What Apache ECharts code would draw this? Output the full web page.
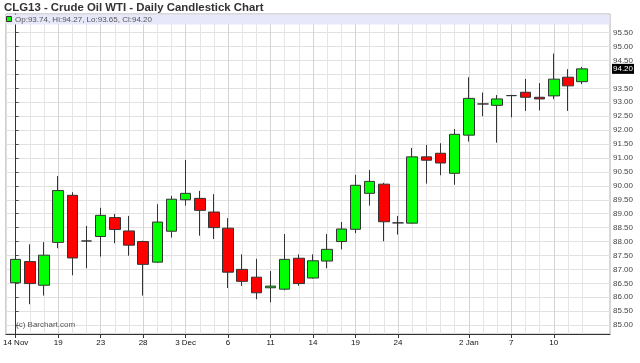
<!DOCTYPE html>
<html>
<head>
<meta charset="utf-8">
<script src="https://cdn.jsdelivr.net/npm/echarts@6/dist/echarts.min.js"></script>
<style>
html,body{margin:0;padding:0;background:#fff;}
#chart{width:640px;height:363px;}
</style>
</head>
<body>
<div id="chart"></div>
<script>
// ---- data ----
const categories = ['14 Nov','15 Nov','16 Nov','19 Nov','20 Nov','21 Nov','23 Nov','26 Nov','27 Nov','28 Nov','29 Nov','30 Nov',
  '3 Dec','4 Dec','5 Dec','6 Dec','7 Dec','10 Dec','11 Dec','12 Dec','13 Dec','14 Dec','17 Dec','18 Dec','19 Dec','20 Dec','21 Dec',
  '24 Dec','26 Dec','27 Dec','28 Dec','31 Dec','2 Jan','3 Jan','4 Jan','7 Jan','8 Jan','9 Jan','10 Jan','11 Jan','14 Jan'];
const opens  = [86.52,87.28,86.43,87.97,89.66,88.02,88.18,88.86,88.38,88.00,87.26,88.37,
  89.50,89.55,89.06,88.48,87.00,86.72,86.34,86.29,87.40,86.69,87.30,88.00,88.44,89.73,90.06,
  88.67,88.66,91.04,91.17,90.45,91.82,92.94,92.89,93.24,93.36,93.18,93.23,93.90,93.74];
const closes = [87.36,86.49,87.51,89.83,87.41,88.02,88.94,88.43,87.87,87.18,88.70,89.52,
  89.73,89.12,88.50,86.90,86.57,86.16,86.40,87.36,86.49,87.31,87.72,88.45,90.02,90.16,88.71,
  88.67,91.04,90.92,90.82,91.85,93.14,92.94,93.12,93.24,93.18,93.12,93.83,93.59,94.20];
const lows   = [86.06,85.75,86.06,87.76,86.79,87.04,87.46,87.94,87.49,86.06,87.24,88.14,
  89.29,88.21,88.09,86.33,86.41,85.93,85.82,86.25,86.41,86.67,87.04,87.72,88.30,89.29,88.01,
  88.25,88.64,90.08,90.38,90.04,91.59,92.50,91.55,92.46,92.69,92.71,93.11,92.69,93.65];
const highs  = [87.70,87.90,87.98,90.35,89.77,88.56,89.21,88.99,88.92,88.03,89.34,89.64,
  90.93,89.82,89.70,88.84,87.54,87.38,86.94,88.27,87.54,87.54,88.27,88.70,90.39,90.57,90.11,
  88.92,91.36,91.47,91.53,92.04,93.90,93.35,93.26,93.27,93.84,93.69,94.75,94.19,94.27];
const xTickIndex = [0,3,6,9,12,15,18,21,24,27,32,35,38];
const xTickLabels = ['14 Nov','19','23','28','3 Dec','6','11','14','19','24','2 Jan','7','10'];
const yTickValues = [85,85.5,86,86.5,87,87.5,88,88.5,89,89.5,90,90.5,91,91.5,92,92.5,93,93.5,94,94.5,95,95.5];
const yLabelValues = [85,85.5,86,86.5,87,87.5,88,88.5,89,89.5,90,90.5,91,91.5,92,92.5,93,93.5,94.5,95,95.5];
const titleText = 'CLG13 - Crude Oil WTI - Daily Candlestick Chart';
const creditText = '(c) Barchart.com';

// ---- build ----
const candleData = categories.map((c, i) => [i, opens[i], closes[i], lows[i], highs[i]]);
const allIdx = categories.map((c, i) => i);
const last = categories.length - 1;
const legendText = 'Op:' + opens[last].toFixed(2) + ', Hi:' + highs[last].toFixed(2) +
  ', Lo:' + lows[last].toFixed(2) + ', Cl:' + closes[last].toFixed(2);
const FONT = '"Liberation Sans", Arial, sans-serif';

const chart = echarts.init(document.getElementById('chart'), null, {renderer: 'canvas'});
chart.setOption({
  animation: false,
  backgroundColor: '#fff',
  title: {
    text: titleText, left: 3, top: 0, padding: [2, 1, 0, 1], z: 60,
    textStyle: {fontSize: 11.4, fontWeight: 'bold', color: '#333', fontFamily: FONT, lineHeight: 12}
  },
  grid: {left: 5, right: 30, top: 14, bottom: 29, show: true, borderColor: '#b0b0b0', borderWidth: 1, containLabel: false},
  xAxis: [
    {
      type: 'value', position: 'top', min: -0.69, max: 41.97,
      axisLine: {show: false}, axisLabel: {show: false},
      axisTick: {show: false, customValues: allIdx},
      splitLine: {show: true, lineStyle: {color: '#e6e6e6', width: 1}}
    },
    {
      type: 'value', position: 'bottom', min: -0.69, max: 41.97,
      axisLine: {show: true, lineStyle: {color: '#333', width: 1}},
      axisTick: {show: true, customValues: xTickIndex, length: 4, lineStyle: {color: '#333'}},
      axisLabel: {
        show: true, customValues: xTickIndex, margin: 5,
        fontSize: 8, color: '#111', fontFamily: FONT,
        formatter: v => xTickLabels[xTickIndex.indexOf(Math.round(v))] || ''
      },
      splitLine: {show: true, lineStyle: {color: '#d4d4d4', width: 1}}
    }
  ],
  yAxis: {
    type: 'value', position: 'right', min: 84.68, max: 96.17, scale: true,
    axisLine: {show: true, lineStyle: {color: '#333', width: 1}},
    axisTick: {show: true, customValues: yTickValues, length: 3, lineStyle: {color: '#555'}},
    axisLabel: {
      show: true, customValues: yLabelValues, margin: 3,
      fontSize: 8, color: '#444', fontFamily: FONT,
      formatter: v => v.toFixed(2)
    },
    splitLine: {show: true, lineStyle: {color: '#e2e2e2', width: 1}}
  },
  series: [{
    type: 'candlestick',
    xAxisIndex: 0,
    data: candleData,
    encode: {x: 0, y: [1, 2, 3, 4]},
    barWidth: 11,
    itemStyle: {
      color: '#00ff00', color0: '#ff0000',
      borderColor: '#333', borderColor0: '#333', borderColorDoji: '#333',
      borderWidth: 1
    },
    markLine: {
      silent: true, symbol: ['none', 'none'], animation: false,
      lineStyle: {color: 'rgba(255,255,255,0)', width: 1, type: 'solid'},
      emphasis: {disabled: true},
      label: {
        show: true, position: 'end', distance: 2,
        formatter: closes[last].toFixed(2),
        backgroundColor: '#000', color: '#fff', fontSize: 8, fontFamily: FONT,
        padding: [1, 1, 1, 1], opacity: 1
      },
      data: [{yAxis: closes[last]}]
    }
  }],
  graphic: [
    {type: 'rect', z: 50, silent: true, shape: {x: 5.5, y: 14.5, width: 604, height: 10}, style: {fill: '#e8e8fb', stroke: null}},
    {type: 'rect', z: 51, silent: true, shape: {x: 6.5, y: 16.5, width: 5, height: 5}, style: {fill: '#00ff00', stroke: '#333', lineWidth: 1}},
    {type: 'text', z: 51, silent: true, x: 15, y: 20, style: {text: legendText, fontSize: 8, fill: '#555', fontFamily: FONT, verticalAlign: 'middle'}},
    {type: 'text', z: 51, silent: true, x: 16, y: 325, style: {text: creditText, fontSize: 8, fill: '#555', fontFamily: FONT, verticalAlign: 'middle'}}
  ]
});
</script>
</body>
</html>
